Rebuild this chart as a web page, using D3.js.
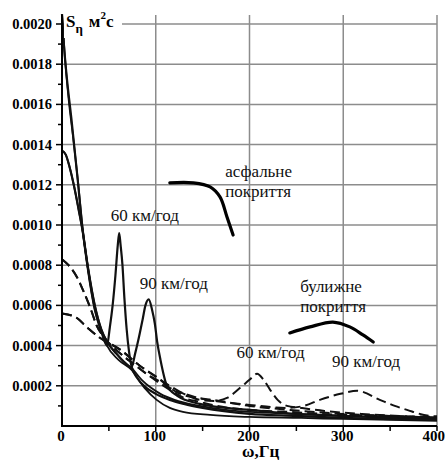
<!DOCTYPE html>
<html><head><meta charset="utf-8">
<script src="https://cdn.jsdelivr.net/npm/d3@7/dist/d3.min.js"></script>
<style>html,body{margin:0;padding:0;background:#fff;}svg{display:block;}
text{font-family:"Liberation Serif","DejaVu Serif","Times New Roman",serif;}</style>
</head><body><div id="chart"></div>
<script>
// ---- data (frequency ω in Hz, spectral density S in m²s) ----
const xTicks = [0, 100, 200, 300, 400];
const yTicks = [0.0002, 0.0004, 0.0006, 0.0008, 0.0010, 0.0012, 0.0014, 0.0016, 0.0018, 0.0020];
const yTickLabels = ["0.0002","0.0004","0.0006","0.0008","0.0010","0.0012","0.0014","0.0016","0.0018","0.0020"];

// asphalt, 60 km/h, without resonance
const asphalt60Base = [[0,0.00205],[3,0.00184],[7,0.00163],[12,0.00143],[17,0.00122],[22,0.00098],[28,0.00077],[35,0.00058],[42,0.00047],[48,0.0004],[60,0.00033],[74,0.00028],[88,0.00019],[101,0.00013],[115,0.00009],[129,0.00007],[158,0.000055],[200,0.000045],[255,0.00004],[300,0.000035],[400,0.000026]];
// asphalt, 60 km/h, with resonance peak
const asphalt60Peak = [[0,0.00205],[2,0.0019],[5,0.00174],[10,0.00153],[16,0.00126],[22,0.00098],[28,0.00077],[35,0.00058],[42,0.00047],[48,0.0004],[51,0.00049],[54,0.0006],[57,0.00075],[59.5,0.0009],[61,0.00096],[62.5,0.0009],[64.5,0.0008],[66.5,0.00064],[69,0.00048],[71.5,0.00037],[74,0.0003],[80,0.00024],[90,0.00019],[100,0.00016],[115,0.00013],[130,0.00011],[150,0.00009],[200,0.00006],[250,0.00005],[300,0.00004],[400,0.00003]];
// asphalt, 90 km/h, without resonance
const asphalt90Base = [[0,0.00137],[4,0.00135],[8,0.00129],[13,0.00119],[18,0.00107],[22,0.00097],[28,0.00078],[35,0.0006],[42,0.00048],[48,0.00042],[58,0.00036],[66,0.00032],[74,0.00029],[85,0.00023],[95,0.00019],[105,0.00016],[120,0.00013],[147,0.0001],[175,0.00008],[200,0.00007],[250,0.00006],[300,0.00005],[350,0.00004],[400,0.000035]];
// asphalt, 90 km/h, with resonance peak
const asphalt90Peak = [[0,0.00137],[4,0.00135],[8,0.00129],[13,0.00119],[18,0.00107],[22,0.00097],[28,0.00078],[35,0.0006],[42,0.00048],[48,0.00042],[58,0.00036],[66,0.00032],[74,0.00029],[78,0.00036],[82,0.00044],[86,0.00053],[89,0.0006],[92.5,0.00063],[96,0.00058],[99,0.00051],[101.5,0.00042],[105,0.00033],[112,0.0002],[123,0.00015],[147,0.00011],[175,0.00009],[200,0.00008],[250,0.00006],[300,0.00005],[400,0.00004]];
// cobblestone, 60 km/h
const cobble60Base = [[0,0.00083],[7,0.0008],[16,0.00074],[22,0.00068],[30,0.00059],[37,0.0005],[45,0.00044],[55,0.00039],[65,0.00035],[76,0.00031],[90,0.00026],[105,0.00021],[115,0.00018],[130,0.00014],[147,0.00012],[165,0.0001],[200,0.00008],[243,0.00007],[300,0.000055],[350,0.00005],[400,0.00004]];
const cobble60Peak = [[0,0.00083],[7,0.0008],[16,0.00074],[22,0.00068],[30,0.00059],[37,0.0005],[45,0.00044],[55,0.00039],[65,0.00035],[76,0.00031],[90,0.00026],[105,0.00022],[115,0.00019],[130,0.00016],[147,0.00013],[162,0.000125],[176,0.00014],[190,0.00019],[200,0.00023],[208,0.00026],[215,0.00023],[222,0.00018],[230,0.00013],[240,0.0001],[255,0.00009],[280,0.000075],[320,0.00006],[360,0.00005],[400,0.000045]];
// cobblestone, 90 km/h
const cobble90Base = [[0,0.00056],[15,0.00054],[27,0.00049],[40,0.00044],[62,0.00038],[83,0.0003],[105,0.00023],[115,0.00019],[126,0.00016],[145,0.00014],[161,0.00013],[200,0.0001],[243,0.00008],[300,0.00006],[350,0.00005],[400,0.000042]];
const cobble90Peak = [[0,0.00056],[15,0.00054],[27,0.00049],[40,0.00044],[62,0.00038],[83,0.0003],[105,0.00023],[115,0.0002],[126,0.00017],[145,0.00014],[170,0.00012],[200,0.000105],[240,0.00009],[258,0.0001],[275,0.00013],[297,0.00016],[315,0.000175],[339,0.00013],[355,0.0001],[368,0.00008],[392,0.00005],[400,0.000048]];

// leader lines (curved brackets) next to the surface labels
const asphaltLeader = [[115,0.00121],[140,0.00121],[158,0.00119],[168.5,0.00114],[176,0.00104],[182.5,0.00095]];
const cobbleLeader = [[243,0.000463],[264.5,0.000493],[289,0.000517],[307,0.000493],[321,0.000453],[332,0.000418]];

const labels = [
  {text:"60 км/год", x:52, y:0.00102},
  {text:"90 км/год", x:83, y:0.00068},
  {text:"60 км/год", x:186, y:0.000338},
  {text:"90 км/год", x:288, y:0.000294},
  {text:"асфальне", x:174, y:0.00124},
  {text:"покриття", x:174, y:0.00114},
  {text:"булижне", x:254, y:0.000665},
  {text:"покриття", x:254, y:0.000567}
];

// ---- drawing ----
const W = 445, H = 460;
const svg = d3.select("#chart").append("svg").attr("width", W).attr("height", H);
const x = d3.scaleLinear().domain([0, 400]).range([62, 437]);
const y = d3.scaleLinear().domain([0, 0.0020]).range([426, 24]);
const yTop = y(0.002045);

// grid
const g = svg.append("g");
g.selectAll("line.hg").data(yTicks).join("line")
  .attr("x1", x(0)).attr("x2", x(400)).attr("y1", d => y(d)).attr("y2", d => y(d))
  .attr("stroke", "#8c8c8c").attr("stroke-width", 1.5);
g.selectAll("line.vg").data(xTicks.slice(1)).join("line")
  .attr("x1", d => x(d)).attr("x2", d => x(d)).attr("y1", yTop).attr("y2", y(0))
  .attr("stroke", "#8c8c8c").attr("stroke-width", 1.5);

// curves
const line = d3.line().x(d => x(d[0])).y(d => y(d[1])).curve(d3.curveMonotoneX);
const curves = [
  {d: asphalt60Base, dash: null, w: 1.8},
  {d: asphalt90Base, dash: null, w: 1.8},
  {d: asphalt60Peak, dash: null, w: 2.2},
  {d: asphalt90Peak, dash: null, w: 2.2},
  {d: cobble60Base, dash: "10,5", w: 2},
  {d: cobble90Base, dash: "10,5", w: 2},
  {d: cobble60Peak, dash: "10,5", w: 2},
  {d: cobble90Peak, dash: "10,5", w: 2}
];
const cg = svg.append("g");
curves.forEach(c => {
  cg.append("path").attr("d", line(c.d)).attr("fill", "none")
    .attr("stroke", "#111").attr("stroke-width", c.w)
    .attr("stroke-dasharray", c.dash);
});

// leaders
const lead = d3.line().x(d => x(d[0])).y(d => y(d[1])).curve(d3.curveCatmullRom);
[asphaltLeader, cobbleLeader].forEach(L => {
  svg.append("path").attr("d", lead(L)).attr("fill", "none")
    .attr("stroke", "#000").attr("stroke-width", 3.2).attr("stroke-linecap", "round");
});

// axes
svg.append("line").attr("x1", x(0)).attr("x2", x(0)).attr("y1", yTop).attr("y2", y(0))
  .attr("stroke", "#000").attr("stroke-width", 2);
svg.append("line").attr("x1", x(0) - 1).attr("x2", x(400)).attr("y1", y(0)).attr("y2", y(0))
  .attr("stroke", "#000").attr("stroke-width", 2);

const yMinor = d3.range(1, 20, 2).map(i => i * 0.0001);
svg.selectAll("line.ytm").data(yTicks).join("line")
  .attr("x1", x(0) - 6).attr("x2", x(0)).attr("y1", d => y(d)).attr("y2", d => y(d))
  .attr("stroke", "#000").attr("stroke-width", 1.5);
svg.selectAll("line.ytn").data(yMinor).join("line")
  .attr("x1", x(0) - 4).attr("x2", x(0)).attr("y1", d => y(d)).attr("y2", d => y(d))
  .attr("stroke", "#000").attr("stroke-width", 1.5);
const xAll = d3.range(50, 401, 50);
svg.selectAll("line.xt").data(xAll).join("line")
  .attr("x1", d => x(d)).attr("x2", d => x(d)).attr("y1", y(0)).attr("y2", y(0) + 5)
  .attr("stroke", "#000").attr("stroke-width", 1.5);

// tick labels
svg.selectAll("text.yl").data(yTicks).join("text")
  .attr("x", 52).attr("y", d => y(d) + 5).attr("text-anchor", "end")
  .attr("font-weight", "bold").attr("font-size", 14.5)
  .text((d, i) => yTickLabels[i]);
svg.selectAll("text.xl").data(xTicks).join("text")
  .attr("x", d => d === 400 ? 445 : x(d) - 1).attr("y", 441)
  .attr("text-anchor", d => d === 400 ? "end" : "middle")
  .attr("font-weight", "bold").attr("font-size", 15)
  .text(d => d);

// axis titles
svg.append("rect").attr("x", 64).attr("y", 8).attr("width", 58).attr("height", 30).attr("fill", "#fff");
const yt = svg.append("text").attr("x", 66).attr("y", 27)
  .attr("font-weight", "bold").attr("font-size", 17);
yt.append("tspan").text("S");
yt.append("tspan").attr("dy", 6).attr("font-size", 13).text("η");
yt.append("tspan").attr("dy", -6).attr("dx", 6).text("м");
yt.append("tspan").attr("dy", -8).attr("font-size", 11).text("2");
yt.append("tspan").attr("dy", 8).text("с");

svg.append("text").attr("x", 242).attr("y", 457)
  .attr("font-weight", "bold").attr("font-size", 17)
  .text("ω,Гц");

// annotations
svg.selectAll("text.ann").data(labels).join("text")
  .attr("x", d => x(d.x)).attr("y", d => y(d.y))
  .attr("font-size", 17).attr("fill", "#111")
  .text(d => d.text);
</script></body></html>
